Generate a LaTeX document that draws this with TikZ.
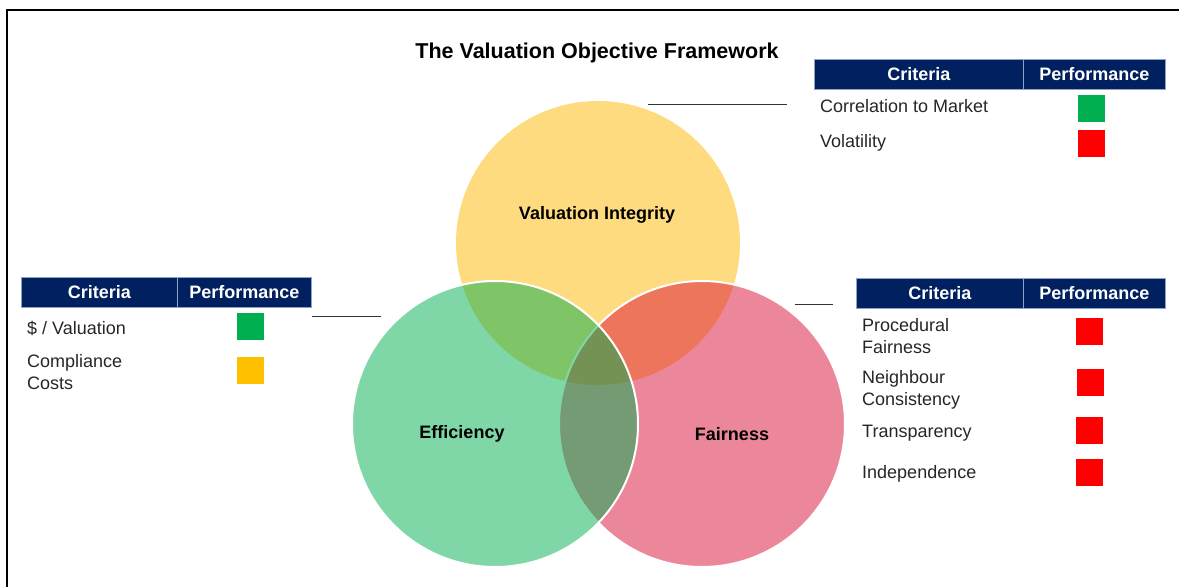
\documentclass[tikz,border=0pt]{standalone}
\usepackage{fontspec}
\setmainfont{Liberation Sans}
\definecolor{navy}{HTML}{002060}
\definecolor{hdrline}{HTML}{8EA0C8}
\definecolor{cyellow}{HTML}{FFB800}
\definecolor{cgreen}{HTML}{00B050}
\definecolor{cpink}{HTML}{DA1038}
\definecolor{sqgreen}{HTML}{00B050}
\definecolor{sqred}{HTML}{FF0000}
\definecolor{sqyellow}{HTML}{FFC000}
\begin{document}
\begin{tikzpicture}[x=1pt,y=-1pt,
  venn/.style={fill opacity=0.5, draw=white, line width=2pt, draw opacity=1},
  hdr/.style={fill=navy, draw=hdrline, line width=0.8pt, text=white, inner sep=0pt,
    font=\fontsize{18}{20}\selectfont\bfseries, minimum height=30pt, anchor=north west},
  crit/.style={anchor=west, inner sep=0pt, align=left, text=black!85,
    font=\fontsize{18}{22}\selectfont},
  sq/.style={minimum width=27pt, minimum height=27pt, inner sep=0pt, anchor=north west},
  lbl/.style={font=\fontsize{18}{20}\selectfont\bfseries, inner sep=0pt},
  leader/.style={line width=0.8pt, black!80}]
\useasboundingbox (0,0) rectangle (1179,587);
% frame
\draw[line width=2.2pt] (7,587) -- (7,10) -- (1179,10);
% title
\node[font=\fontsize{21.5}{24}\selectfont\bfseries, inner sep=0pt] (title) at (597,53) {The Valuation Objective Framework};
% Venn circles
\fill[cyellow, fill opacity=0.5] (598,243) circle[radius=142pt];
\draw[venn, fill=cpink] (702,424) circle[radius=143pt];
\draw[venn, fill=cgreen] (495,424) circle[radius=143pt];
\node[lbl] (vi) at (597,215) {Valuation Integrity};
\node[lbl] (eff) at (462,434) {Efficiency};
\node[lbl] (fair) at (732,434) {Fairness};
% top-right table
\node[hdr, minimum width=209pt] (h1a) at (814,59) {Criteria};
\node[hdr, minimum width=142pt] (h1b) at (1023,59) {Performance};
\node[crit] (r1a) at (820,106) {Correlation to Market};
\node[crit] (r1b) at (820,143) {Volatility};
\node[sq, fill=sqgreen] (s1a) at (1078,95) {};
\node[sq, fill=sqred] (s1b) at (1078,130) {};
\coordinate (l1a) at (648,104);
\coordinate (l1b) at (787,104);
\draw[leader] (l1a) -- (l1b);
% left table
\node[hdr, minimum width=156pt] (h2a) at (21,277) {Criteria};
\node[hdr, minimum width=134pt] (h2b) at (177,277) {Performance};
\node[crit] (r2a) at (27,328) {\$ / Valuation};
\node[crit] (r2b) at (27,372) {Compliance\\Costs};
\node[sq, fill=sqgreen] (s2a) at (237,313) {};
\node[sq, fill=sqyellow] (s2b) at (237,357) {};
\coordinate (l2a) at (312,316);
\coordinate (l2b) at (381,316);
\draw[leader] (l2a) -- (l2b);
% right table
\node[hdr, minimum width=167pt] (h3a) at (856,278) {Criteria};
\node[hdr, minimum width=142pt] (h3b) at (1023,278) {Performance};
\node[crit] (r3a) at (862,336) {Procedural\\Fairness};
\node[crit] (r3b) at (862,390) {Neighbour\\Consistency};
\node[crit] (r3c) at (862,433) {Transparency};
\node[crit] (r3d) at (862,474) {Independence};
\node[sq, fill=sqred] (s3a) at (1076,318) {};
\node[sq, fill=sqred] (s3b) at (1077,369) {};
\node[sq, fill=sqred] (s3c) at (1076,417) {};
\node[sq, fill=sqred] (s3d) at (1076,459) {};
\coordinate (l3a) at (795,304);
\coordinate (l3b) at (833,304);
\draw[leader] (l3a) -- (l3b);
\end{tikzpicture}
\end{document}
